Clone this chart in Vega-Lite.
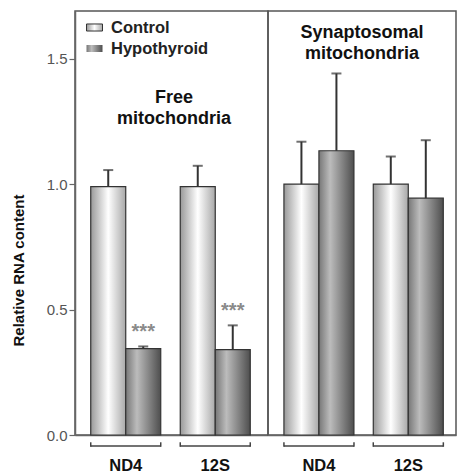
{
  "$schema": "https://vega.github.io/schema/vega-lite/v6.json",
  "padding": {"left": 10, "top": 10, "right": 0, "bottom": 0},
  "datasets": {
    "bars": [
      {"panel": "Free", "panelTitle": "Free mitochondria", "gene": "ND4", "group": "Control", "value": 0.99, "upper": 1.056},
      {"panel": "Free", "panelTitle": "Free mitochondria", "gene": "ND4", "group": "Hypothyroid", "value": 0.344, "upper": 0.353, "sig": "***"},
      {"panel": "Free", "panelTitle": "Free mitochondria", "gene": "12S", "group": "Control", "value": 0.99, "upper": 1.073},
      {"panel": "Free", "panelTitle": "Free mitochondria", "gene": "12S", "group": "Hypothyroid", "value": 0.34, "upper": 0.437, "sig": "***"},
      {"panel": "Syn", "panelTitle": "Synaptosomal mitochondria", "gene": "ND4", "group": "Control", "value": 1.0, "upper": 1.169},
      {"panel": "Syn", "panelTitle": "Synaptosomal mitochondria", "gene": "ND4", "group": "Hypothyroid", "value": 1.133, "upper": 1.441},
      {"panel": "Syn", "panelTitle": "Synaptosomal mitochondria", "gene": "12S", "group": "Control", "value": 1.0, "upper": 1.11},
      {"panel": "Syn", "panelTitle": "Synaptosomal mitochondria", "gene": "12S", "group": "Hypothyroid", "value": 0.944, "upper": 1.175}
    ]
  },
  "spacing": 0,
  "bounds": "flush",
  "resolve": {"scale": {"y": "independent", "x": "independent"}},
  "hconcat": [
    {
      "width": 193,
      "height": 424,
      "data": {"name": "bars"},
      "transform": [{"filter": "datum.panel === 'Free'"}],
      "layer": [
        {
          "transform": [{"filter": "datum.group === 'Control'"}],
          "mark": {"type": "bar", "stroke": "#333", "strokeWidth": 1.2,
            "fill": {"gradient": "linear", "x1": 0, "y1": 0, "x2": 1, "y2": 0, "stops": [{"offset": 0, "color": "#999999"}, {"offset": 0.5, "color": "#ffffff"}, {"offset": 1, "color": "#a8a8a8"}]}},
          "encoding": {
            "x": {"field": "gene", "type": "nominal", "title": null, "scale": {"domain": ["ND4", "12S"], "paddingInner": 0.218, "paddingOuter": 0.187, "align": 0.47},
              "axis": {"labelFontSize": 16.5, "labelFontWeight": "bold", "labelColor": "#111", "labelPadding": 22, "ticks": false, "domainColor": "#666", "domainWidth": 1.5, "labelAngle": 0, "grid": false}},
            "xOffset": {"field": "group", "type": "nominal", "scale": {"domain": ["Control", "Hypothyroid"], "paddingInner": 0, "paddingOuter": 0}},
            "y": {"field": "value", "type": "quantitative", "title": "Relative RNA content", "scale": {"domain": [0, 1.69], "nice": false},
              "axis": {"values": [0, 0.5, 1, 1.5], "format": ".1f", "labelFontSize": 15, "labelColor": "#555", "tickColor": "#666", "tickSize": 6, "tickWidth": 1.2, "labelPadding": 2, "domainColor": "#666", "domainWidth": 1.5, "titleFontSize": 15, "titleFontWeight": "bold", "titleColor": "#111", "titlePadding": 20, "titleY": 259, "grid": false}},
            "stroke": {"field": "group", "type": "nominal", "scale": {"domain": ["Control"], "range": ["#333333"]},
              "legend": {"orient": "none", "legendX": 11, "legendY": 8, "title": null, "symbolType": "M-1,-0.44H1V0.44H-1Z", "symbolSize": 256, "symbolStrokeWidth": 1, "labelFontSize": 16.5, "labelFontWeight": "bold", "labelColor": "#222", "labelOffset": 8, "padding": 0}}
          }
        },
        {
          "transform": [{"filter": "datum.group === 'Hypothyroid'"}],
          "mark": {"type": "bar", "stroke": "#333", "strokeWidth": 1.2,
            "fill": {"gradient": "linear", "x1": 0, "y1": 0, "x2": 1, "y2": 0, "stops": [{"offset": 0, "color": "#777777"}, {"offset": 0.32, "color": "#bcbcbc"}, {"offset": 1, "color": "#4e4e4e"}]}},
          "encoding": {
            "x": {"field": "gene", "type": "nominal", "title": null},
            "xOffset": {"field": "group", "type": "nominal"},
            "y": {"field": "value", "type": "quantitative", "title": "Relative RNA content"},
            "strokeDash": {"field": "group", "type": "nominal", "scale": {"domain": ["Hypothyroid"], "range": [[1, 0]]},
              "legend": {"orient": "none", "legendX": 11, "legendY": 29, "title": null, "symbolType": "M-1,-0.44H1V0.44H-1Z", "symbolSize": 256, "symbolStrokeWidth": 1, "symbolStrokeColor": "#333", "labelFontSize": 16.5, "labelFontWeight": "bold", "labelColor": "#222", "labelOffset": 8, "padding": 0}}
          }
        },
        {
          "mark": {"type": "rule", "stroke": "#333", "strokeWidth": 2},
          "encoding": {
            "x": {"field": "gene", "type": "nominal", "title": null},
            "xOffset": {"field": "group", "type": "nominal"},
            "y": {"field": "value", "type": "quantitative", "title": "Relative RNA content"},
            "y2": {"field": "upper"}
          }
        },
        {
          "mark": {"type": "tick", "color": "#333", "thickness": 2, "size": 10, "orient": "horizontal"},
          "encoding": {
            "x": {"field": "gene", "type": "nominal", "title": null},
            "xOffset": {"field": "group", "type": "nominal"},
            "y": {"field": "upper", "type": "quantitative", "title": "Relative RNA content"}
          }
        },
        {
          "transform": [{"filter": "datum.sig"}],
          "mark": {"type": "text", "fontSize": 20, "fontWeight": "bold", "color": "#8a8a8a", "baseline": "alphabetic", "dy": -8},
          "encoding": {
            "x": {"field": "gene", "type": "nominal", "title": null},
            "xOffset": {"field": "group", "type": "nominal"},
            "y": {"field": "upper", "type": "quantitative", "title": "Relative RNA content"},
            "text": {"field": "sig"}
          }
        },
        {
          "transform": [{"filter": "datum.group === 'Control'"}],
          "mark": {"type": "rect", "color": "#444"},
          "encoding": {
            "x": {"field": "gene", "type": "nominal", "title": null},
            "y": {"datum": -0.047, "type": "quantitative"},
            "y2": {"datum": -0.041}
          }
        },
        {
          "transform": [{"filter": "datum.group === 'Control'"}],
          "mark": {"type": "rule", "color": "#444", "strokeWidth": 1.5},
          "encoding": {
            "x": {"field": "gene", "type": "nominal", "title": null, "bandPosition": 0},
            "y": {"datum": -0.047, "type": "quantitative"},
            "y2": {"datum": -0.029}
          }
        },
        {
          "transform": [{"filter": "datum.group === 'Control'"}],
          "mark": {"type": "rule", "color": "#444", "strokeWidth": 1.5},
          "encoding": {
            "x": {"field": "gene", "type": "nominal", "title": null, "bandPosition": 1},
            "y": {"datum": -0.047, "type": "quantitative"},
            "y2": {"datum": -0.029}
          }
        },
        {
          "transform": [{"filter": "datum.gene === 'ND4' && datum.group === 'Control'"}],
          "mark": {"type": "text", "fontSize": 18, "fontWeight": "bold", "color": "#111", "baseline": "alphabetic", "lineBreak": " ", "lineHeight": 21.5, "dx": 2.5},
          "encoding": {
            "y": {"datum": 1.3245, "type": "quantitative"},
            "text": {"field": "panelTitle"}
          }
        }
      ]
    },
    {
      "width": 188,
      "height": 424,
      "data": {"name": "bars"},
      "transform": [{"filter": "datum.panel === 'Syn'"}],
      "layer": [
        {
          "transform": [{"filter": "datum.group === 'Control'"}],
          "mark": {"type": "bar", "stroke": "#333", "strokeWidth": 1.2,
            "fill": {"gradient": "linear", "x1": 0, "y1": 0, "x2": 1, "y2": 0, "stops": [{"offset": 0, "color": "#999999"}, {"offset": 0.5, "color": "#ffffff"}, {"offset": 1, "color": "#a8a8a8"}]}},
          "encoding": {
            "x": {"field": "gene", "type": "nominal", "title": null, "scale": {"domain": ["ND4", "12S"], "paddingInner": 0.216, "paddingOuter": 0.16, "align": 0.557},
              "axis": {"labelFontSize": 16.5, "labelFontWeight": "bold", "labelColor": "#111", "labelPadding": 22, "ticks": false, "domainColor": "#666", "domainWidth": 1.5, "labelAngle": 0, "grid": false}},
            "xOffset": {"field": "group", "type": "nominal", "scale": {"domain": ["Control", "Hypothyroid"], "paddingInner": 0, "paddingOuter": 0}},
            "y": {"field": "value", "type": "quantitative", "scale": {"domain": [0, 1.69], "nice": false}, "axis": null}
          }
        },
        {
          "transform": [{"filter": "datum.group === 'Hypothyroid'"}],
          "mark": {"type": "bar", "stroke": "#333", "strokeWidth": 1.2,
            "fill": {"gradient": "linear", "x1": 0, "y1": 0, "x2": 1, "y2": 0, "stops": [{"offset": 0, "color": "#777777"}, {"offset": 0.32, "color": "#bcbcbc"}, {"offset": 1, "color": "#4e4e4e"}]}},
          "encoding": {
            "x": {"field": "gene", "type": "nominal", "title": null},
            "xOffset": {"field": "group", "type": "nominal"},
            "y": {"field": "value", "type": "quantitative"}
          }
        },
        {
          "mark": {"type": "rule", "stroke": "#333", "strokeWidth": 2},
          "encoding": {
            "x": {"field": "gene", "type": "nominal", "title": null},
            "xOffset": {"field": "group", "type": "nominal"},
            "y": {"field": "value", "type": "quantitative"},
            "y2": {"field": "upper"}
          }
        },
        {
          "mark": {"type": "tick", "color": "#333", "thickness": 2, "size": 10, "orient": "horizontal"},
          "encoding": {
            "x": {"field": "gene", "type": "nominal", "title": null},
            "xOffset": {"field": "group", "type": "nominal"},
            "y": {"field": "upper", "type": "quantitative"}
          }
        },
        {
          "transform": [{"filter": "datum.group === 'Control'"}],
          "mark": {"type": "rect", "color": "#444"},
          "encoding": {
            "x": {"field": "gene", "type": "nominal", "title": null},
            "y": {"datum": -0.047, "type": "quantitative"},
            "y2": {"datum": -0.041}
          }
        },
        {
          "transform": [{"filter": "datum.group === 'Control'"}],
          "mark": {"type": "rule", "color": "#444", "strokeWidth": 1.5},
          "encoding": {
            "x": {"field": "gene", "type": "nominal", "title": null, "bandPosition": 0},
            "y": {"datum": -0.047, "type": "quantitative"},
            "y2": {"datum": -0.029}
          }
        },
        {
          "transform": [{"filter": "datum.group === 'Control'"}],
          "mark": {"type": "rule", "color": "#444", "strokeWidth": 1.5},
          "encoding": {
            "x": {"field": "gene", "type": "nominal", "title": null, "bandPosition": 1},
            "y": {"datum": -0.047, "type": "quantitative"},
            "y2": {"datum": -0.029}
          }
        },
        {
          "transform": [{"filter": "datum.gene === 'ND4' && datum.group === 'Control'"}],
          "mark": {"type": "text", "fontSize": 18, "fontWeight": "bold", "color": "#111", "baseline": "alphabetic", "lineBreak": " ", "lineHeight": 21.5},
          "encoding": {
            "y": {"datum": 1.5835, "type": "quantitative"},
            "text": {"field": "panelTitle"}
          }
        }
      ]
    }
  ],
  "config": {
    "font": "Liberation Sans",
    "view": {"stroke": "#555", "strokeWidth": 1.5}
  }
}
